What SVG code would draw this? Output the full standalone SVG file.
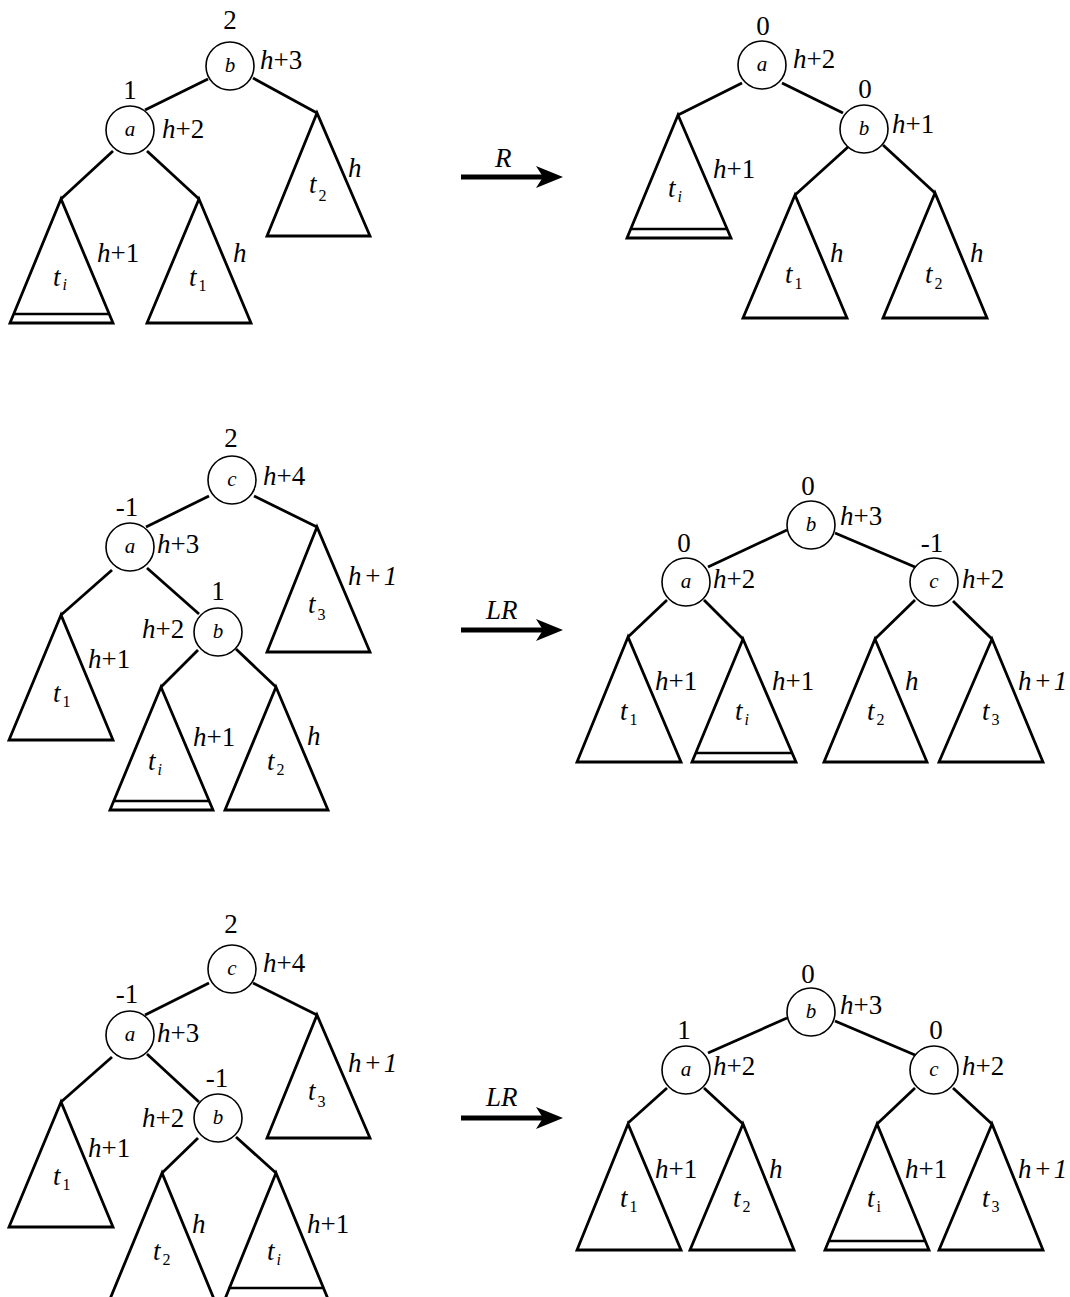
<svg xmlns="http://www.w3.org/2000/svg" width="1070" height="1297" viewBox="0 0 1070 1297">
<style>
text{font-family:"Liberation Serif","Times New Roman",serif;font-size:27px;fill:#000}
.it{font-style:italic}
.m{text-anchor:middle}
.nd{font-size:21px;font-style:italic;text-anchor:middle}
.sub{font-size:16px;font-style:normal}
.subi{font-size:16px;font-style:italic}
.sp{letter-spacing:2px}
circle{fill:#fff;stroke:#000;stroke-width:1.6}
polygon.tri{fill:#fff;stroke:#000;stroke-width:2.8;stroke-linejoin:miter}
line.in{stroke:#000;stroke-width:2.6}
#edges line{stroke:#000;stroke-width:2.8}
.shaft{stroke:#000;stroke-width:5}
</style>
<rect width="1070" height="1297" fill="#fff"/>
<g id="edges">
<line x1="208" y1="79" x2="145" y2="110"/><line x1="253" y1="78" x2="317" y2="113"/><line x1="113" y1="151" x2="61" y2="199"/><line x1="147" y1="151" x2="199" y2="199"/>
<line x1="742" y1="83" x2="678" y2="115"/><line x1="782" y1="83" x2="843" y2="113"/><line x1="848" y1="147" x2="795" y2="195"/><line x1="883" y1="145" x2="935" y2="193"/>
<line x1="209" y1="496" x2="146" y2="527"/><line x1="254" y1="496" x2="317" y2="527"/><line x1="112" y1="570" x2="61" y2="615"/><line x1="147" y1="568" x2="199" y2="614"/><line x1="198" y1="650" x2="161" y2="687"/><line x1="236" y1="649" x2="276" y2="687"/>
<line x1="787" y1="530" x2="708" y2="567"/><line x1="835" y1="533" x2="915" y2="567"/><line x1="667" y1="600" x2="628" y2="637"/><line x1="704" y1="600" x2="743" y2="639"/><line x1="915" y1="600" x2="875" y2="639"/><line x1="953" y1="601" x2="992" y2="639"/>
<line x1="209" y1="983" x2="145" y2="1015"/><line x1="253" y1="983" x2="317" y2="1015"/><line x1="112" y1="1057" x2="61" y2="1102"/><line x1="147" y1="1054" x2="199" y2="1102"/><line x1="198" y1="1138" x2="162" y2="1173"/><line x1="236" y1="1137" x2="276" y2="1173"/>
<line x1="787" y1="1018" x2="708" y2="1053"/><line x1="835" y1="1021" x2="915" y2="1055"/><line x1="667" y1="1088" x2="628" y2="1123"/><line x1="704" y1="1088" x2="743" y2="1124"/><line x1="915" y1="1088" x2="877" y2="1124"/><line x1="953" y1="1088" x2="992" y2="1124"/>
</g>
<g id="arrows">
<g id="arrow-R"><line class="shaft" x1="461" y1="177" x2="545" y2="177"/><polygon points="563,177 536,166 543,177 536,188"/><text class="it" x="495" y="167">R</text></g>
<g id="arrow-LR1"><line class="shaft" x1="461" y1="630" x2="545" y2="630"/><polygon points="563,630 536,619 543,630 536,641"/><text class="it" x="486" y="619">LR</text></g>
<g id="arrow-LR2"><line class="shaft" x1="461" y1="1118" x2="545" y2="1118"/><polygon points="563,1118 536,1107 543,1118 536,1129"/><text class="it" x="486" y="1106">LR</text></g>
</g>
<!-- Panel 1 -->
<g id="p1-b"><circle cx="230" cy="66" r="24"/><text class="nd" x="230" y="72">b</text><text class="m" x="230" y="29">2</text><text x="260" y="69"><tspan class="it">h</tspan>+3</text></g>
<g id="p1-a"><circle cx="130" cy="130" r="24"/><text class="nd" x="130" y="136">a</text><text class="m" x="130" y="99">1</text><text x="162" y="138"><tspan class="it">h</tspan>+2</text></g>
<g id="p1-t2"><polygon class="tri" points="317,113 267,236 370,236"/><text class="it" x="309" y="193">t<tspan class="sub" dx="2" dy="8">2</tspan></text><text class="it" x="348" y="177">h</text></g>
<g id="p1-ti"><polygon class="tri" points="61,199 10,323 113,323"/><line class="in" x1="13.7" y1="314" x2="109.2" y2="314"/><text class="it" x="53" y="286">t<tspan class="subi" dx="2" dy="4">i</tspan></text><text x="97" y="262"><tspan class="it">h</tspan>+1</text></g>
<g id="p1-t1"><polygon class="tri" points="199,199 147,323 251,323"/><text class="it" x="189" y="286">t<tspan class="sub" dx="2" dy="5">1</tspan></text><text class="it" x="233" y="262">h</text></g>
<!-- Panel 2 -->
<g id="p2-a"><circle cx="762" cy="65" r="24"/><text class="nd" x="762" y="71">a</text><text class="m" x="763" y="35">0</text><text x="793" y="68"><tspan class="it">h</tspan>+2</text></g>
<g id="p2-b"><circle cx="864" cy="129" r="24"/><text class="nd" x="864" y="135">b</text><text class="m" x="865" y="98">0</text><text x="892" y="133"><tspan class="it">h</tspan>+1</text></g>
<g id="p2-ti"><polygon class="tri" points="678,115 627,238 731,238"/><line class="in" x1="630.7" y1="229" x2="727.1" y2="229"/><text class="it" x="668" y="197">t<tspan class="subi" dx="2" dy="5">i</tspan></text><text x="713" y="178"><tspan class="it">h</tspan>+1</text></g>
<g id="p2-t1"><polygon class="tri" points="795,195 743,318 847,318"/><text class="it" x="785" y="283">t<tspan class="sub" dx="2" dy="6">1</tspan></text><text class="it" x="830" y="262">h</text></g>
<g id="p2-t2"><polygon class="tri" points="935,193 883,318 987,318"/><text class="it" x="925" y="283">t<tspan class="sub" dx="2" dy="6">2</tspan></text><text class="it" x="970" y="262">h</text></g>
<!-- Panel 3 -->
<g id="p3-c"><circle cx="232" cy="480" r="24"/><text class="nd" x="232" y="486">c</text><text class="m" x="231" y="447">2</text><text x="263" y="485"><tspan class="it">h</tspan>+4</text></g>
<g id="p3-a"><circle cx="130" cy="547" r="24"/><text class="nd" x="130" y="553">a</text><text class="m" x="127" y="516">-1</text><text x="157" y="553"><tspan class="it">h</tspan>+3</text></g>
<g id="p3-b"><circle cx="218" cy="632" r="24"/><text class="nd" x="218" y="638">b</text><text class="m" x="218" y="600">1</text><text x="142" y="638"><tspan class="it">h</tspan>+2</text></g>
<g id="p3-t3"><polygon class="tri" points="317,527 267,652 370,652"/><text class="it" x="308" y="613">t<tspan class="sub" dx="2" dy="7">3</tspan></text><text class="it sp" x="348" y="585">h+1</text></g>
<g id="p3-t1"><polygon class="tri" points="61,615 9,740 113,740"/><text class="it" x="53" y="702">t<tspan class="sub" dx="2" dy="5">1</tspan></text><text x="88" y="668"><tspan class="it">h</tspan>+1</text></g>
<g id="p3-ti"><polygon class="tri" points="161,687 110,810 213,810"/><line class="in" x1="113.7" y1="801" x2="209.2" y2="801"/><text class="it" x="148" y="770">t<tspan class="subi" dx="2" dy="5">i</tspan></text><text x="193" y="746"><tspan class="it">h</tspan>+1</text></g>
<g id="p3-t2"><polygon class="tri" points="276,687 225,810 328,810"/><text class="it" x="267" y="770">t<tspan class="sub" dx="2" dy="5">2</tspan></text><text class="it" x="307" y="745">h</text></g>
<!-- Panel 4 -->
<g id="p4-b"><circle cx="811" cy="525" r="24"/><text class="nd" x="811" y="531">b</text><text class="m" x="808" y="495">0</text><text x="840" y="525"><tspan class="it">h</tspan>+3</text></g>
<g id="p4-a"><circle cx="686" cy="582" r="24"/><text class="nd" x="686" y="588">a</text><text class="m" x="684" y="552">0</text><text x="713" y="588"><tspan class="it">h</tspan>+2</text></g>
<g id="p4-c"><circle cx="934" cy="582" r="24"/><text class="nd" x="934" y="588">c</text><text class="m" x="932" y="552">-1</text><text x="962" y="588"><tspan class="it">h</tspan>+2</text></g>
<g id="p4-t1"><polygon class="tri" points="628,637 577,762 681,762"/><text class="it" x="620" y="720">t<tspan class="sub" dx="2" dy="5">1</tspan></text><text x="655" y="690"><tspan class="it">h</tspan>+1</text></g>
<g id="p4-ti"><polygon class="tri" points="743,639 692,762 796,762"/><line class="in" x1="695.7" y1="753" x2="792.1" y2="753"/><text class="it" x="735" y="720">t<tspan class="subi" dx="2" dy="5">i</tspan></text><text x="772" y="690"><tspan class="it">h</tspan>+1</text></g>
<g id="p4-t2"><polygon class="tri" points="875,639 824,762 927,762"/><text class="it" x="867" y="720">t<tspan class="sub" dx="2" dy="5">2</tspan></text><text class="it" x="905" y="690">h</text></g>
<g id="p4-t3"><polygon class="tri" points="992,639 939,762 1043,762"/><text class="it" x="982" y="720">t<tspan class="sub" dx="2" dy="5">3</tspan></text><text class="it sp" x="1018" y="690">h+1</text></g>
<!-- Panel 5 -->
<g id="p5-c"><circle cx="232" cy="969" r="24"/><text class="nd" x="232" y="975">c</text><text class="m" x="231" y="933">2</text><text x="263" y="972"><tspan class="it">h</tspan>+4</text></g>
<g id="p5-a"><circle cx="130" cy="1035" r="24"/><text class="nd" x="130" y="1041">a</text><text class="m" x="127" y="1003">-1</text><text x="157" y="1042"><tspan class="it">h</tspan>+3</text></g>
<g id="p5-b"><circle cx="218" cy="1118" r="24"/><text class="nd" x="218" y="1124">b</text><text class="m" x="217" y="1087">-1</text><text x="142" y="1127"><tspan class="it">h</tspan>+2</text></g>
<g id="p5-t3"><polygon class="tri" points="317,1015 267,1138 370,1138"/><text class="it" x="308" y="1100">t<tspan class="sub" dx="2" dy="7">3</tspan></text><text class="it sp" x="348" y="1072">h+1</text></g>
<g id="p5-t1"><polygon class="tri" points="61,1102 9,1227 113,1227"/><text class="it" x="53" y="1185">t<tspan class="sub" dx="2" dy="5">1</tspan></text><text x="88" y="1157"><tspan class="it">h</tspan>+1</text></g>
<g id="p5-t2"><polygon class="tri" points="162,1173 110,1299 214,1299"/><text class="it" x="153" y="1260">t<tspan class="sub" dx="2" dy="5">2</tspan></text><text class="it" x="192" y="1233">h</text></g>
<g id="p5-ti"><polygon class="tri" points="276,1173 225,1299 328,1299"/><line class="in" x1="228.7" y1="1288" x2="324.2" y2="1288"/><text class="it" x="267" y="1260">t<tspan class="subi" dx="2" dy="5">i</tspan></text><text x="307" y="1233"><tspan class="it">h</tspan>+1</text></g>
<!-- Panel 6 -->
<g id="p6-b"><circle cx="811" cy="1012" r="24"/><text class="nd" x="811" y="1018">b</text><text class="m" x="808" y="983">0</text><text x="840" y="1014"><tspan class="it">h</tspan>+3</text></g>
<g id="p6-a"><circle cx="686" cy="1070" r="24"/><text class="nd" x="686" y="1076">a</text><text class="m" x="684" y="1039">1</text><text x="713" y="1075"><tspan class="it">h</tspan>+2</text></g>
<g id="p6-c"><circle cx="934" cy="1070" r="24"/><text class="nd" x="934" y="1076">c</text><text class="m" x="936" y="1039">0</text><text x="962" y="1075"><tspan class="it">h</tspan>+2</text></g>
<g id="p6-t1"><polygon class="tri" points="628,1124 577,1250 681,1250"/><text class="it" x="620" y="1207">t<tspan class="sub" dx="2" dy="5">1</tspan></text><text x="655" y="1178"><tspan class="it">h</tspan>+1</text></g>
<g id="p6-t2"><polygon class="tri" points="743,1124 690,1250 794,1250"/><text class="it" x="733" y="1207">t<tspan class="sub" dx="2" dy="5">2</tspan></text><text class="it" x="769" y="1178">h</text></g>
<g id="p6-ti"><polygon class="tri" points="877,1124 825,1250 929,1250"/><line class="in" x1="828.7" y1="1241" x2="925.3" y2="1241"/><text class="it" x="867" y="1207">t<tspan class="sub" dx="2" dy="5">i</tspan></text><text x="905" y="1178"><tspan class="it">h</tspan>+1</text></g>
<g id="p6-t3"><polygon class="tri" points="992,1124 939,1250 1043,1250"/><text class="it" x="982" y="1207">t<tspan class="sub" dx="2" dy="5">3</tspan></text><text class="it sp" x="1018" y="1178">h+1</text></g>
</svg>
